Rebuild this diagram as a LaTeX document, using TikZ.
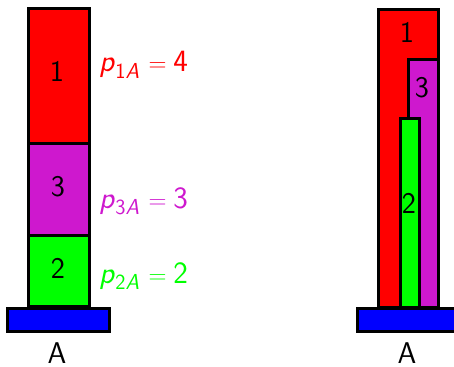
\documentclass[tikz,border=0pt]{standalone}
\definecolor{myred}{RGB}{255,0,0}
\definecolor{mymag}{RGB}{206,24,206}
\definecolor{mygreen}{RGB}{0,255,0}
\definecolor{myblue}{RGB}{0,0,255}
\newcommand\plab[2]{\textit{p}\textsubscript{#1\textit{A}}\hspace{2pt}${}=\;$#2}
\begin{document}
\begin{tikzpicture}[x=1pt,y=-1pt,
  blk/.style={draw=black,line width=3pt},
  lab/.style={font=\sffamily\fontsize{30}{33}\selectfont,inner sep=0pt},
  plabel/.style={font=\sffamily\fontsize{31}{34}\selectfont,inner sep=0pt,anchor=base west}]
\useasboundingbox (0,0) rectangle (454,366);
% left stack
\draw[blk,fill=myred] (28,9) rectangle (89,143);
\draw[blk,fill=mymag] (28,143) rectangle (89,235);
\draw[blk,fill=mygreen] (28,235) rectangle (89,306);
\draw[blk,fill=myblue] (7,308) rectangle (109,331);
\node[lab] (l1) at (57,71) {1};
\node[lab] (l3) at (58,187) {3};
\node[lab] (l2) at (58,268) {2};
\node[lab] (lA) at (57,353) {A};
\node[plabel,text=myred] (p1) at (99,72) {\plab{1}{4}};
\node[plabel,text=mymag] (p3) at (99,208) {\plab{3}{3}};
\node[plabel,text=mygreen] (p2) at (99,283) {\plab{2}{2}};
% right stack
\draw[blk,fill=myred] (378,10) rectangle (438,307);
\draw[blk,fill=mymag] (408,60) rectangle (438,307);
\draw[blk,fill=mygreen] (400,119) rectangle (419,307);
\draw[blk,fill=myblue] (357,308) rectangle (459,331);
\node[lab] (r1) at (407,32) {1};
\node[lab] (r3) at (422,88) {3};
\node[lab] (r2) at (409,203) {2};
\node[lab] (rA) at (407,353) {A};
\end{tikzpicture}
\end{document}
